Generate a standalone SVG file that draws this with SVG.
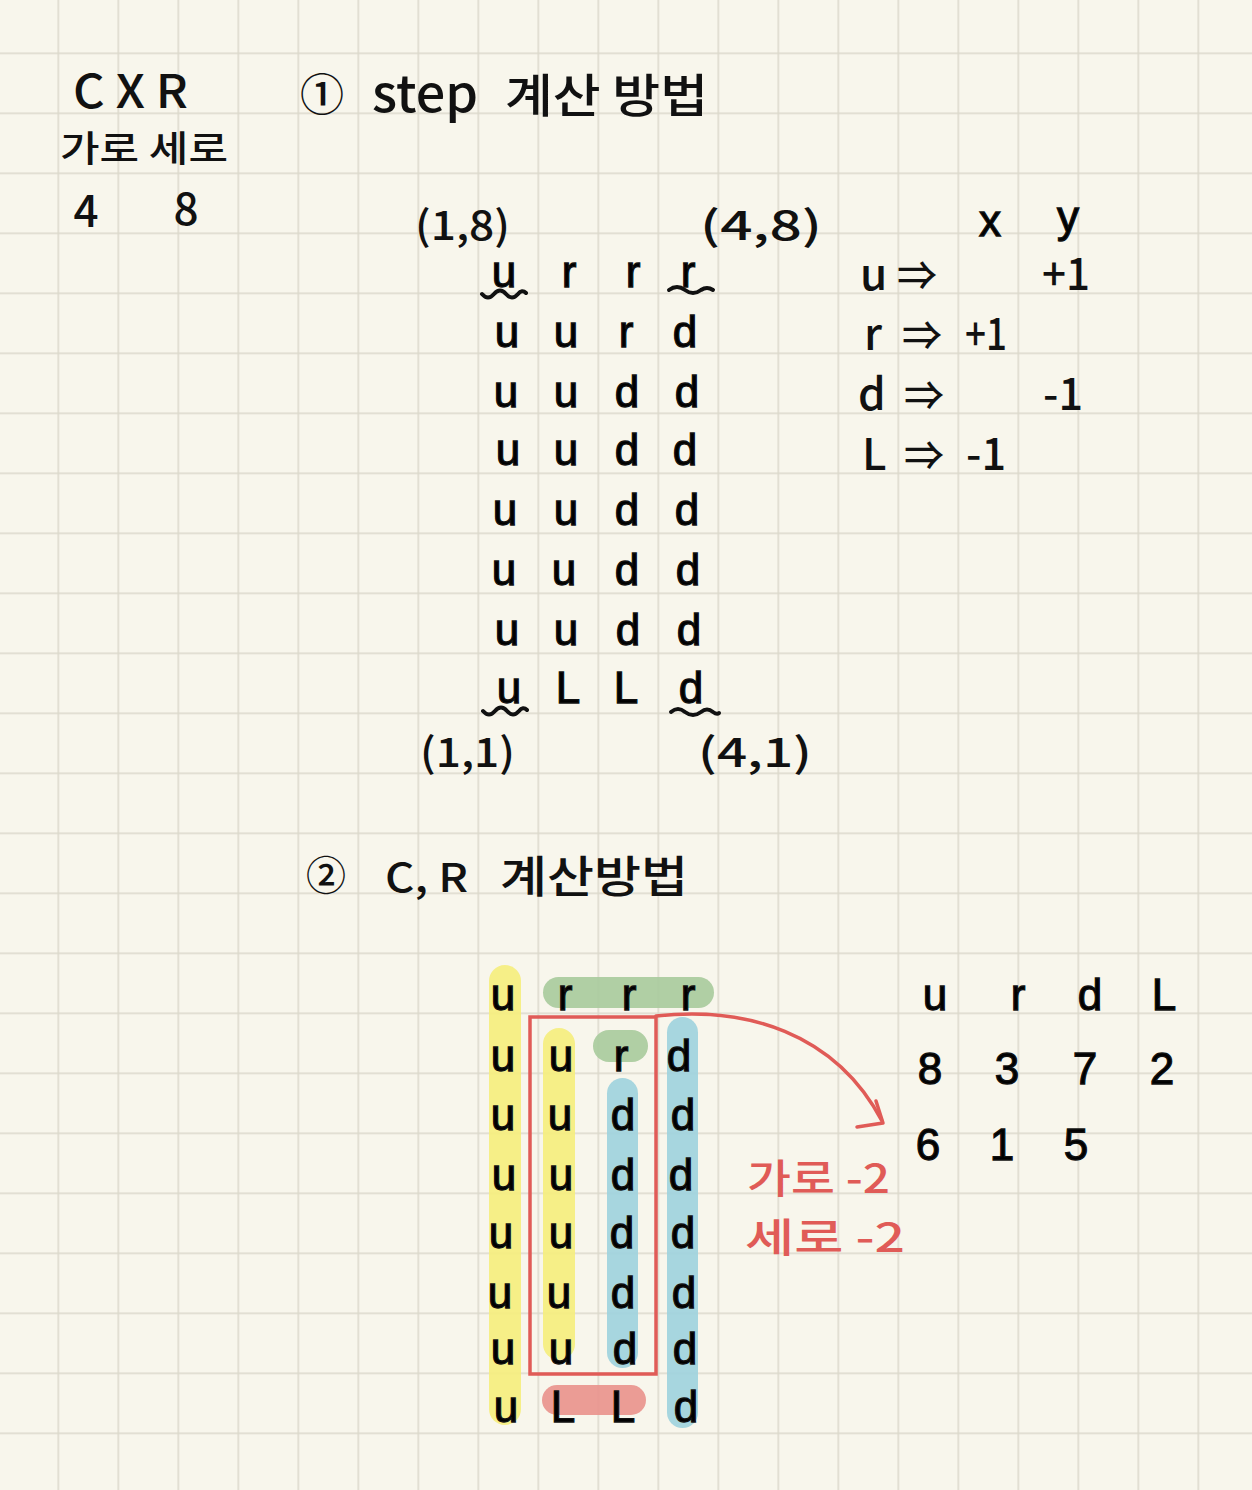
<svg xmlns="http://www.w3.org/2000/svg" width="1252" height="1490" viewBox="0 0 1252 1490">
<defs>
<pattern id="grid" patternUnits="userSpaceOnUse" x="57.5" y="52.5" width="60" height="60">
<path d="M0.75 0 V60 M0 0.75 H60" stroke="#dbd8cb" stroke-width="1.5" fill="none"/>
</pattern>
<style>
.t{font-family:"Noto Sans CJK KR","Noto Sans",sans-serif;font-weight:500;fill:#111;}
.L{font-family:"Liberation Sans","Noto Sans",sans-serif;font-size:44px;text-anchor:middle;stroke:#111;stroke-width:1.3px;}
.red{fill:#e05b57;}
.hl{opacity:0.92;}
.sq{fill:none;stroke:#111;stroke-width:4;stroke-linecap:round;}
</style>
</defs>
<rect width="1252" height="1490" fill="#f8f6ec"/>
<rect width="1252" height="1490" fill="url(#grid)"/>

<g id="size-note">
<text class="t" x="73" y="108" font-size="46" textLength="115" lengthAdjust="spacingAndGlyphs">C X R</text>
<text class="t" x="60" y="162" font-size="36" textLength="168" lengthAdjust="spacingAndGlyphs">가로 세로</text>
<text class="t" x="86" y="227" font-size="44" text-anchor="middle">4</text>
<text class="t" x="186" y="225" font-size="44" text-anchor="middle">8</text>
</g>

<g id="title1">
<text class="t" x="322" y="111" font-size="44" font-weight="700" text-anchor="middle">①</text>
<text class="t" x="372" y="112" font-size="50" textLength="106" lengthAdjust="spacingAndGlyphs">step</text>
<text class="t" x="505" y="112" font-size="46" textLength="203" lengthAdjust="spacingAndGlyphs">계산 방법</text>
</g>

<g id="grid1">
<text class="t" x="415" y="240" font-size="40" textLength="95" lengthAdjust="spacingAndGlyphs">(1,8)</text>
<text class="t" x="700" y="240" font-size="40" textLength="122" lengthAdjust="spacingAndGlyphs">(4,8)</text>
<text class="L" y="287"><tspan x="504">u</tspan><tspan x="569">r</tspan><tspan x="633">r</tspan><tspan x="688">r</tspan></text>
<text class="L" y="347"><tspan x="507">u</tspan><tspan x="566">u</tspan><tspan x="626">r</tspan><tspan x="685">d</tspan></text>
<text class="L" y="407"><tspan x="506">u</tspan><tspan x="566">u</tspan><tspan x="627">d</tspan><tspan x="687">d</tspan></text>
<text class="L" y="465"><tspan x="508">u</tspan><tspan x="566">u</tspan><tspan x="627">d</tspan><tspan x="685">d</tspan></text>
<text class="L" y="525"><tspan x="505">u</tspan><tspan x="566">u</tspan><tspan x="627">d</tspan><tspan x="687">d</tspan></text>
<text class="L" y="585"><tspan x="504">u</tspan><tspan x="564">u</tspan><tspan x="627">d</tspan><tspan x="688">d</tspan></text>
<text class="L" y="645"><tspan x="507">u</tspan><tspan x="566">u</tspan><tspan x="628">d</tspan><tspan x="689">d</tspan></text>
<text class="L" y="703"><tspan x="509">u</tspan><tspan x="568">L</tspan><tspan x="626">L</tspan><tspan x="691">d</tspan></text>
<path class="sq" d="M482 294 q6 7 12 0 q6 -7 12 0 q6 7 12 0 q4 -5 8 -1"/>
<path class="sq" d="M669 290 q8 -6 16 0 q8 6 16 0 q6 -4 12 0"/>
<path class="sq" d="M483 711 q6 7 12 0 q6 -7 12 0 q6 7 12 0 q4 -5 8 -1"/>
<path class="sq" d="M671 712 q7 -6 14 0 q8 6 16 0 q6 -5 12 0 q4 3 6 1"/>
<text class="t" x="420" y="767" font-size="40" textLength="95" lengthAdjust="spacingAndGlyphs">(1,1)</text>
<text class="t" x="698" y="767" font-size="40" textLength="114" lengthAdjust="spacingAndGlyphs">(4,1)</text>
</g>

<g id="step-table">
<text class="L" x="990" y="236">x</text>
<text class="L" x="1068" y="232">y</text>
<text class="t" x="860" y="290" font-size="44">u</text>
<text class="t" x="897" y="290" font-size="40">⇒</text>
<text class="t" x="1042" y="290" font-size="44" textLength="48" lengthAdjust="spacingAndGlyphs">+1</text>
<text class="t" x="864" y="350" font-size="44">r</text>
<text class="t" x="902" y="350" font-size="40">⇒</text>
<text class="t" x="965" y="350" font-size="44" textLength="42" lengthAdjust="spacingAndGlyphs">+1</text>
<text class="t" x="858" y="410" font-size="44">d</text>
<text class="t" x="904" y="410" font-size="40">⇒</text>
<text class="t" x="1043" y="410" font-size="44" textLength="40" lengthAdjust="spacingAndGlyphs">-1</text>
<text class="t" x="862" y="470" font-size="44">L</text>
<text class="t" x="904" y="470" font-size="40">⇒</text>
<text class="t" x="966" y="470" font-size="44" textLength="40" lengthAdjust="spacingAndGlyphs">-1</text>
</g>

<g id="title2">
<text class="t" x="326" y="890" font-size="40" font-weight="700" text-anchor="middle">②</text>
<text class="t" x="385" y="892" font-size="40" textLength="83" lengthAdjust="spacingAndGlyphs">C, R</text>
<text class="t" x="500" y="893" font-size="44" textLength="188" lengthAdjust="spacingAndGlyphs">계산방법</text>
</g>

<g id="highlights">
<rect class="hl" x="489" y="965" width="32" height="460" rx="16" fill="#f5ee7e"/>
<rect class="hl" x="543" y="977" width="171" height="31" rx="15.5" fill="#a9cb9d"/>
<rect class="hl" x="543" y="1028" width="32" height="332" rx="16" fill="#f5ee7e"/>
<rect class="hl" x="593" y="1030" width="55" height="32" rx="16" fill="#a9cb9d"/>
<rect class="hl" x="607" y="1078" width="31" height="290" rx="15.5" fill="#9fd3dd"/>
<rect class="hl" x="667" y="1017" width="31" height="411" rx="15.5" fill="#9fd3dd"/>
<rect class="hl" x="542" y="1385" width="104" height="30" rx="15" fill="#e9948d"/>
</g>

<g id="grid2">
<text class="L" y="1010"><tspan x="503">u</tspan><tspan x="565">r</tspan><tspan x="629">r</tspan><tspan x="688">r</tspan></text>
<text class="L" y="1071"><tspan x="503">u</tspan><tspan x="561">u</tspan><tspan x="621">r</tspan><tspan x="679">d</tspan></text>
<text class="L" y="1130"><tspan x="503">u</tspan><tspan x="560">u</tspan><tspan x="623">d</tspan><tspan x="683">d</tspan></text>
<text class="L" y="1190"><tspan x="504">u</tspan><tspan x="561">u</tspan><tspan x="623">d</tspan><tspan x="681">d</tspan></text>
<text class="L" y="1248"><tspan x="501">u</tspan><tspan x="561">u</tspan><tspan x="622">d</tspan><tspan x="683">d</tspan></text>
<text class="L" y="1308"><tspan x="500">u</tspan><tspan x="559">u</tspan><tspan x="623">d</tspan><tspan x="684">d</tspan></text>
<text class="L" y="1364"><tspan x="503">u</tspan><tspan x="561">u</tspan><tspan x="625">d</tspan><tspan x="685">d</tspan></text>
<text class="L" y="1422"><tspan x="506">u</tspan><tspan x="563">L</tspan><tspan x="623">L</tspan><tspan x="686">d</tspan></text>
</g>

<g id="inner-box">
<rect x="530" y="1017" width="126" height="357" fill="none" stroke="#e05b57" stroke-width="3.5"/>
</g>

<g id="connectors">
<path d="M656 1016 C745 1006 835 1032 882 1121" fill="none" stroke="#e05b57" stroke-width="3.5" stroke-linecap="round"/>
<path d="M876 1101 L883 1123 L857 1127" fill="none" stroke="#e05b57" stroke-width="3.5" stroke-linecap="round" stroke-linejoin="round"/>
</g>

<g id="reduce-note">
<text class="t red" x="747" y="1193" font-size="40" textLength="143" lengthAdjust="spacingAndGlyphs">가로 -2</text>
<text class="t red" x="745" y="1252" font-size="40" textLength="160" lengthAdjust="spacingAndGlyphs">세로 -2</text>
</g>

<g id="count-table">
<text class="L" y="1010"><tspan x="935">u</tspan><tspan x="1018">r</tspan><tspan x="1090">d</tspan><tspan x="1164">L</tspan></text>
<text class="L" y="1084"><tspan x="930">8</tspan><tspan x="1007">3</tspan><tspan x="1085">7</tspan><tspan x="1162">2</tspan></text>
<text class="L" y="1160"><tspan x="928">6</tspan><tspan x="1002">1</tspan><tspan x="1076">5</tspan></text>
</g>
</svg>
